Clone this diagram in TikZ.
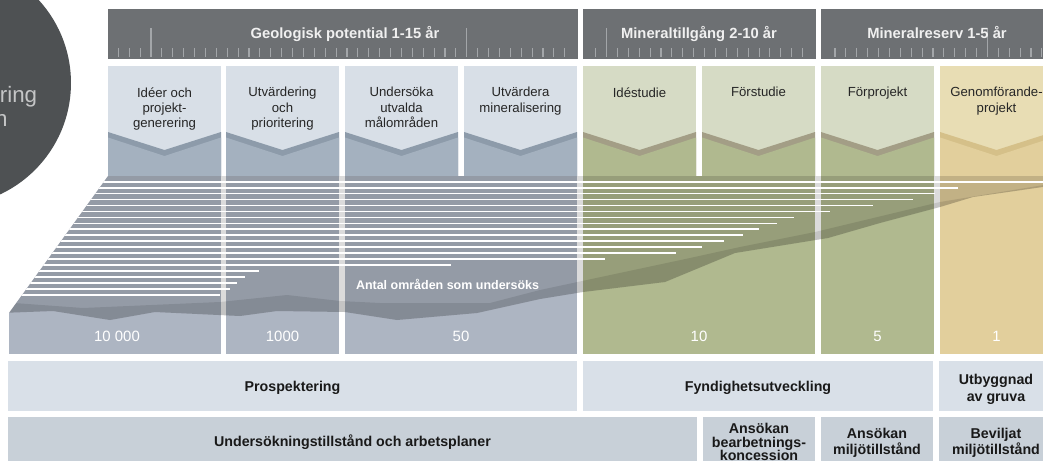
\documentclass[tikz,border=0pt]{standalone}
\usepackage{fontspec}
\setmainfont{Liberation Sans}
\usetikzlibrary{positioning}

\definecolor{headgrey}{HTML}{6D7073}
\definecolor{tickgrey}{HTML}{A3A6A9}
\definecolor{discgrey}{HTML}{4E5153}
\definecolor{disctext}{HTML}{C4C5C6}
\definecolor{prosplight}{HTML}{D8DFE7}
\definecolor{prospdark}{HTML}{A4B1BF}
\definecolor{prospedge}{HTML}{8D9BAA}
\definecolor{prospbase}{HTML}{ADB5C2}
\definecolor{minlight}{HTML}{D6DBC5}
\definecolor{mindark}{HTML}{B0B98F}
\definecolor{minedge}{HTML}{A39E86}
\definecolor{reslight}{HTML}{E8DDB4}
\definecolor{resdark}{HTML}{E2CF9C}
\definecolor{resedge}{HTML}{D5C089}
\definecolor{rowlight}{HTML}{D9E0E8}
\definecolor{rowmid}{HTML}{C8D0D8}

\begin{document}
\begin{tikzpicture}[x=0.02cm,y=-0.02cm,
  headtext/.style={font=\bfseries\fontsize{8.4}{10}\selectfont,text=white!94!black,anchor=base,inner sep=0pt},
  stagetext/.style={font=\fontsize{7.5}{8.7}\selectfont,text=black!85,align=center,anchor=north,inner sep=0pt},
  counttext/.style={font=\fontsize{8.5}{10}\selectfont,text=white,anchor=base,inner sep=0pt},
  rowtext/.style={font=\bfseries\fontsize{8.1}{9}\selectfont,text=black!90,align=center,inner sep=0pt},
  tickline/.style={draw=tickgrey,line width=0.6pt},
  arealine/.style={draw=white,line width=1pt}]
\useasboundingbox (0,0) rectangle (1043,460);
\clip (0,0) rectangle (1043,460);
\fill[white] (0,0) rectangle (1043,460);

% disc on the left
\fill[discgrey] (-52,83) circle [radius=2.46cm];
\node[font=\fontsize{12.7}{14}\selectfont,text=disctext,anchor=base east,inner sep=0pt] (discA) at (37.5,102.5) {ring};
\node[font=\fontsize{12.7}{14}\selectfont,text=disctext,anchor=base east,inner sep=0pt] (discB) at (8,126) {n};

% time bars
\fill[headgrey] (108,9) rectangle (578,59);
\fill[headgrey] (583,9) rectangle (816,59);
\fill[headgrey] (821,9) rectangle (1053,59);
\draw[tickline] (118.3,48)--+(0,9) (129.2,48)--+(0,9) (140.1,48)--+(0,9) (151.0,28)--+(0,29) (161.9,48)--+(0,9)
  (172.8,48)--+(0,9) (183.6,48)--+(0,9) (194.5,48)--+(0,9) (205.4,48)--+(0,9) (216.3,48)--+(0,9)
  (227.2,48)--+(0,9) (238.1,48)--+(0,9) (249.0,48)--+(0,9) (259.9,48)--+(0,9) (270.8,48)--+(0,9)
  (281.7,48)--+(0,9) (292.5,48)--+(0,9) (303.4,48)--+(0,9) (314.3,48)--+(0,9) (325.2,48)--+(0,9)
  (336.1,48)--+(0,9) (347.0,48)--+(0,9) (357.9,48)--+(0,9) (368.8,48)--+(0,9) (379.7,48)--+(0,9)
  (390.6,48)--+(0,9) (401.4,48)--+(0,9) (412.3,48)--+(0,9) (423.2,48)--+(0,9) (434.1,48)--+(0,9)
  (445.0,48)--+(0,9) (455.9,48)--+(0,9) (466.8,28)--+(0,29) (477.7,48)--+(0,9) (488.6,48)--+(0,9)
  (499.5,48)--+(0,9) (510.3,48)--+(0,9) (521.2,48)--+(0,9) (532.1,48)--+(0,9) (543.0,48)--+(0,9)
  (553.9,48)--+(0,9) (564.8,48)--+(0,9);
\draw[tickline] (595.7,48)--+(0,9) (606.6,28)--+(0,29) (617.5,48)--+(0,9) (628.4,48)--+(0,9) (639.3,48)--+(0,9)
  (650.2,48)--+(0,9) (661.0,48)--+(0,9) (671.9,48)--+(0,9) (682.8,48)--+(0,9) (693.7,48)--+(0,9)
  (704.6,48)--+(0,9) (715.5,48)--+(0,9) (726.4,48)--+(0,9) (737.3,48)--+(0,9) (748.2,48)--+(0,9)
  (759.1,48)--+(0,9) (769.9,48)--+(0,9) (780.8,48)--+(0,9) (791.7,48)--+(0,9) (802.6,48)--+(0,9);
\draw[tickline] (835.0,48)--+(0,9) (845.9,48)--+(0,9) (856.8,48)--+(0,9) (867.7,48)--+(0,9) (878.6,48)--+(0,9)
  (889.5,48)--+(0,9) (900.3,48)--+(0,9) (911.2,48)--+(0,9) (922.1,48)--+(0,9) (933.0,48)--+(0,9)
  (943.9,48)--+(0,9) (954.8,48)--+(0,9) (965.7,48)--+(0,9) (976.6,48)--+(0,9) (987.5,28)--+(0,29)
  (998.4,48)--+(0,9) (1009.2,48)--+(0,9) (1020.1,48)--+(0,9) (1031.0,48)--+(0,9) (1041.9,48)--+(0,9);
\node[headtext] (hdrgeo) at (345,38.3) {Geologisk potential 1-15 år};
\node[headtext] (hdrmin) at (699,38.3) {Mineraltillgång 2-10 år};
\node[headtext] (hdrres) at (937,38.3) {Mineralreserv 1-5 år};

% stages with chevrons
\fill[prosplight] (108,66) rectangle (221,176);
\fill[prospedge] (108,132) -- (164.5,150) -- (221,132) -- (221,176) -- (108,176) -- cycle;
\fill[prospdark] (108,137.5) -- (164.5,156) -- (221,137.5) -- (221,176) -- (108,176) -- cycle;
\fill[prosplight] (226,66) rectangle (339,176);
\fill[prospedge] (226,132) -- (282.5,150) -- (339,132) -- (339,176) -- (226,176) -- cycle;
\fill[prospdark] (226,137.5) -- (282.5,156) -- (339,137.5) -- (339,176) -- (226,176) -- cycle;
\fill[prosplight] (345,66) rectangle (458,176);
\fill[prospedge] (345,132) -- (401.5,150) -- (458,132) -- (458,176) -- (345,176) -- cycle;
\fill[prospdark] (345,137.5) -- (401.5,156) -- (458,137.5) -- (458,176) -- (345,176) -- cycle;
\fill[prosplight] (464,66) rectangle (577,176);
\fill[prospedge] (464,132) -- (520.5,150) -- (577,132) -- (577,176) -- (464,176) -- cycle;
\fill[prospdark] (464,137.5) -- (520.5,156) -- (577,137.5) -- (577,176) -- (464,176) -- cycle;
\fill[minlight] (583,66) rectangle (696,176);
\fill[minedge] (583,132) -- (639.5,150) -- (696,132) -- (696,176) -- (583,176) -- cycle;
\fill[mindark] (583,137.5) -- (639.5,156) -- (696,137.5) -- (696,176) -- (583,176) -- cycle;
\fill[minlight] (702,66) rectangle (815,176);
\fill[minedge] (702,132) -- (758.5,150) -- (815,132) -- (815,176) -- (702,176) -- cycle;
\fill[mindark] (702,137.5) -- (758.5,156) -- (815,137.5) -- (815,176) -- (702,176) -- cycle;
\fill[minlight] (821,66) rectangle (934,176);
\fill[minedge] (821,132) -- (877.5,150) -- (934,132) -- (934,176) -- (821,176) -- cycle;
\fill[mindark] (821,137.5) -- (877.5,156) -- (934,137.5) -- (934,176) -- (821,176) -- cycle;
\fill[reslight] (940,66) rectangle (1053,176);
\fill[resedge] (940,132) -- (996.5,150) -- (1053,132) -- (1053,176) -- (940,176) -- cycle;
\fill[resdark] (940,137.5) -- (996.5,156) -- (1053,137.5) -- (1053,176) -- (940,176) -- cycle;
\node[stagetext] (ideer) at (164.5,87) {Idéer och\\projekt-\\generering};
\node[stagetext] (utvardering) at (282.5,87) {Utvärdering\\och\\prioritering};
\node[stagetext] (undersoka) at (401.5,87) {Undersöka\\utvalda\\målområden};
\node[stagetext] (utvardera) at (520.5,87) {Utvärdera\\mineralisering};
\node[stagetext] (idestudie) at (639.5,87) {Idéstudie};
\node[stagetext] (forstudie) at (758.5,87) {Förstudie};
\node[stagetext] (forprojekt) at (877.5,87) {Förprojekt};
\node[stagetext] (genomforande) at (996.5,87) {Genomförande-\\projekt};

% number of areas
\begin{scope}
\clip (108,176) -- (1053,176) -- (1053,354) -- (9,354) -- (9,313) -- cycle;
\fill[prospbase] (0,176) rectangle (221,354);
\fill[prospbase] (226,176) rectangle (339,354);
\fill[prospbase] (345,176) rectangle (577,354);
\fill[mindark] (583,176) rectangle (815,354);
\fill[mindark] (821,176) rectangle (934,354);
\fill[resdark] (940,176) rectangle (1053,354);
\fill[black,opacity=0.14] (0,176) -- (1053,176) -- (1053,185.5) -- (973,197) -- (940,207) -- (880,223)
  -- (828,238) -- (735,253) -- (665,282) -- (583,292) -- (540,299) -- (477,313) -- (397,320) -- (345,312)
  -- (277,311) -- (240,316) -- (155,312) -- (110,320) -- (53,311) -- (0,313) -- cycle;
\fill[black,opacity=0.1] (0,302) -- (83,308) -- (220,302) -- (287,295) -- (340,301) -- (380,303) -- (490,303)
  -- (540,290) -- (690,258) -- (740,247) -- (815,232) -- (940,202) -- (1053,183.5)
  -- (1053,185.5) -- (973,197) -- (940,207) -- (880,223) -- (828,238) -- (735,253) -- (665,282) -- (583,292)
  -- (540,299) -- (477,313) -- (397,320) -- (345,312) -- (277,311) -- (240,316) -- (155,312) -- (110,320)
  -- (53,311) -- (0,313) -- cycle;
\draw[arealine] (0,181.7) -- (1053,181.7);
\draw[arealine] (0,187.7) -- (958,187.7);
\draw[arealine] (0,193.6) -- (935,193.6);
\draw[arealine] (0,199.6) -- (913,199.6);
\draw[arealine] (0,205.5) -- (873,205.5);
\draw[arealine] (0,211.5) -- (830,211.5);
\draw[arealine] (0,217.4) -- (794,217.4);
\draw[arealine] (0,223.4) -- (777,223.4);
\draw[arealine] (0,229.3) -- (759,229.3);
\draw[arealine] (0,235.3) -- (743,235.3);
\draw[arealine] (0,241.2) -- (724,241.2);
\draw[arealine] (0,247.2) -- (702,247.2);
\draw[arealine] (0,253.1) -- (676,253.1);
\draw[arealine] (0,259.1) -- (605,259.1);
\draw[arealine] (0,265.0) -- (451,265.0);
\draw[arealine] (0,271.0) -- (259,271.0);
\draw[arealine] (0,276.9) -- (245,276.9);
\draw[arealine] (0,282.9) -- (237,282.9);
\draw[arealine] (0,288.8) -- (230,288.8);
\draw[arealine] (0,294.8) -- (220,294.8);
\end{scope}
\node[font=\bfseries\fontsize{7.1}{9}\selectfont,text=white,anchor=base,inner sep=0pt] (antal) at (447.5,289) {Antal områden som undersöks};
\node[counttext] (cntA) at (117,341.7) {10 000};
\node[counttext] (cntB) at (282.5,341.7) {1000};
\node[counttext] (cntC) at (461,341.7) {50};
\node[counttext] (cntD) at (699,341.7) {10};
\node[counttext] (cntE) at (877.5,341.7) {5};
\node[counttext] (cntF) at (996.5,341.7) {1};

% phases and permits
\fill[rowlight] (8,361) rectangle (577,411);
\fill[rowlight] (583,361) rectangle (933,411);
\fill[rowlight] (939,361) rectangle (1053,411);
\node[rowtext,anchor=base] (prosp) at (292.5,391.5) {Prospektering};
\node[rowtext,anchor=base] (fynd) at (758,391.5) {Fyndighetsutveckling};
\node[rowtext,anchor=north,font=\bfseries\fontsize{8.1}{9.4}\selectfont] (utbygg) at (996,374) {Utbyggnad\\av gruva};
\fill[rowmid] (8,417) rectangle (697,467);
\fill[rowmid] (703,417) rectangle (815,467);
\fill[rowmid] (821,417) rectangle (933,467);
\fill[rowmid] (939,417) rectangle (1053,467);
\node[rowtext,anchor=base] (tillstand) at (352.5,446.5) {Undersökningstillstånd och arbetsplaner};
\node[rowtext,anchor=north,font=\bfseries\fontsize{8.1}{7.6}\selectfont] (bearb) at (759,423.3) {Ansökan\\bearbetnings-\\koncession};
\node[rowtext,anchor=north,font=\bfseries\fontsize{8.1}{8.9}\selectfont] (miljoans) at (877,428.3) {Ansökan\\miljötillstånd};
\node[rowtext,anchor=north,font=\bfseries\fontsize{8.1}{8.9}\selectfont] (miljobev) at (996,428.3) {Beviljat\\miljötillstånd};
\end{tikzpicture}
\end{document}
